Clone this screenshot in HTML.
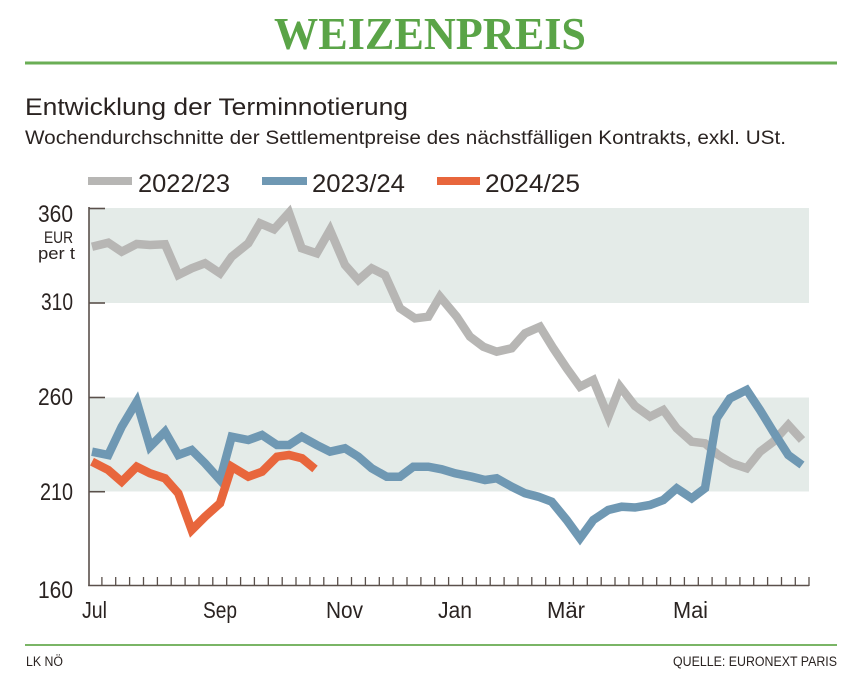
<!DOCTYPE html>
<html><head><meta charset="utf-8"><style>
html,body{margin:0;padding:0;background:#fff;}
svg{display:block;}
</style></head><body>
<svg width="859" height="689" viewBox="0 0 859 689" xmlns="http://www.w3.org/2000/svg">
<rect width="859" height="689" fill="#fff"/>
<text x="430" y="49" text-anchor="middle" font-family="Liberation Serif, serif" font-weight="bold" font-size="46" fill="#5aa447" textLength="312" lengthAdjust="spacingAndGlyphs">WEIZENPREIS</text>
<rect x="25" y="61.5" width="812" height="3" fill="#6aae55"/>
<text x="25" y="115" font-family="Liberation Sans, sans-serif" font-size="24" fill="#2a2321" textLength="383" lengthAdjust="spacingAndGlyphs">Entwicklung der Terminnotierung</text>
<text x="25" y="144" font-family="Liberation Sans, sans-serif" font-size="19.5" fill="#2a2321" textLength="761" lengthAdjust="spacingAndGlyphs">Wochendurchschnitte der Settlementpreise des nächstfälligen Kontrakts, exkl. USt.</text>
<rect x="88" y="177" width="44" height="8" fill="#b7b6b4"/>
<text x="138" y="192" font-family="Liberation Sans, sans-serif" font-size="25" fill="#2a2321" textLength="92" lengthAdjust="spacingAndGlyphs">2022/23</text>
<rect x="262" y="177" width="45" height="8" fill="#6f98b3"/>
<text x="312" y="192" font-family="Liberation Sans, sans-serif" font-size="25" fill="#2a2321" textLength="93" lengthAdjust="spacingAndGlyphs">2023/24</text>
<rect x="437" y="177" width="43" height="8" fill="#e8663c"/>
<text x="485" y="192" font-family="Liberation Sans, sans-serif" font-size="25" fill="#2a2321" textLength="95" lengthAdjust="spacingAndGlyphs">2024/25</text>
<rect x="89" y="208" width="720" height="95" fill="#e4ebe8"/>
<rect x="89" y="397.5" width="720" height="94" fill="#e4ebe8"/>
<g font-family="Liberation Sans, sans-serif" font-size="24" fill="#2a2321" text-anchor="end">
<text x="73" y="222" textLength="35" lengthAdjust="spacingAndGlyphs">360</text>
<text x="73" y="310" textLength="32" lengthAdjust="spacingAndGlyphs">310</text>
<text x="73" y="405" textLength="35" lengthAdjust="spacingAndGlyphs">260</text>
<text x="73" y="500" textLength="33" lengthAdjust="spacingAndGlyphs">210</text>
<text x="73" y="598" textLength="35" lengthAdjust="spacingAndGlyphs">160</text>
</g>
<text x="73" y="243" text-anchor="end" font-family="Liberation Sans, sans-serif" font-size="17" fill="#2a2321" textLength="29" lengthAdjust="spacingAndGlyphs">EUR</text>
<text x="75" y="259" text-anchor="end" font-family="Liberation Sans, sans-serif" font-size="17" fill="#2a2321" textLength="37" lengthAdjust="spacingAndGlyphs">per t</text>
<g stroke="#5a504b" stroke-width="1.6" fill="none">
<line x1="89" y1="207" x2="89" y2="586"/>
<line x1="88.2" y1="585.5" x2="809" y2="585.5"/>
<line x1="89" y1="208.5" x2="105" y2="208.5"/>
<line x1="89" y1="303" x2="105" y2="303"/>
<line x1="89" y1="397.5" x2="105" y2="397.5"/>
<line x1="89" y1="491.7" x2="105" y2="491.7"/>
</g>
<g stroke="#5a504b" stroke-width="1.3">
<line x1="101.9" y1="577" x2="101.9" y2="586"/><line x1="115.7" y1="577" x2="115.7" y2="586"/><line x1="129.6" y1="577" x2="129.6" y2="586"/><line x1="143.5" y1="577" x2="143.5" y2="586"/><line x1="157.4" y1="577" x2="157.4" y2="586"/><line x1="171.2" y1="577" x2="171.2" y2="586"/><line x1="185.1" y1="577" x2="185.1" y2="586"/><line x1="199" y1="577" x2="199" y2="586"/><line x1="212.8" y1="577" x2="212.8" y2="586"/><line x1="226.7" y1="577" x2="226.7" y2="586"/><line x1="240.6" y1="577" x2="240.6" y2="586"/><line x1="254.4" y1="577" x2="254.4" y2="586"/><line x1="268.3" y1="577" x2="268.3" y2="586"/><line x1="282.2" y1="577" x2="282.2" y2="586"/><line x1="296" y1="577" x2="296" y2="586"/><line x1="309.9" y1="577" x2="309.9" y2="586"/><line x1="323.8" y1="577" x2="323.8" y2="586"/><line x1="337.7" y1="577" x2="337.7" y2="586"/><line x1="351.5" y1="577" x2="351.5" y2="586"/><line x1="365.4" y1="577" x2="365.4" y2="586"/><line x1="379.3" y1="577" x2="379.3" y2="586"/><line x1="393.1" y1="577" x2="393.1" y2="586"/><line x1="407" y1="577" x2="407" y2="586"/><line x1="420.9" y1="577" x2="420.9" y2="586"/><line x1="434.7" y1="577" x2="434.7" y2="586"/><line x1="448.6" y1="577" x2="448.6" y2="586"/><line x1="462.5" y1="577" x2="462.5" y2="586"/><line x1="476.3" y1="577" x2="476.3" y2="586"/><line x1="490.2" y1="577" x2="490.2" y2="586"/><line x1="504.1" y1="577" x2="504.1" y2="586"/><line x1="518" y1="577" x2="518" y2="586"/><line x1="531.8" y1="577" x2="531.8" y2="586"/><line x1="545.7" y1="577" x2="545.7" y2="586"/><line x1="559.6" y1="577" x2="559.6" y2="586"/><line x1="573.4" y1="577" x2="573.4" y2="586"/><line x1="587.3" y1="577" x2="587.3" y2="586"/><line x1="601.2" y1="577" x2="601.2" y2="586"/><line x1="615" y1="577" x2="615" y2="586"/><line x1="628.9" y1="577" x2="628.9" y2="586"/><line x1="642.8" y1="577" x2="642.8" y2="586"/><line x1="656.7" y1="577" x2="656.7" y2="586"/><line x1="670.5" y1="577" x2="670.5" y2="586"/><line x1="684.4" y1="577" x2="684.4" y2="586"/><line x1="698.3" y1="577" x2="698.3" y2="586"/><line x1="712.1" y1="577" x2="712.1" y2="586"/><line x1="726" y1="577" x2="726" y2="586"/><line x1="739.9" y1="577" x2="739.9" y2="586"/><line x1="753.7" y1="577" x2="753.7" y2="586"/><line x1="767.6" y1="577" x2="767.6" y2="586"/><line x1="781.5" y1="577" x2="781.5" y2="586"/><line x1="795.3" y1="577" x2="795.3" y2="586"/><line x1="809" y1="577" x2="809" y2="586"/>
</g>
<g font-family="Liberation Sans, sans-serif" font-size="23" fill="#2a2321">
<text x="82" y="618" textLength="25" lengthAdjust="spacingAndGlyphs">Jul</text>
<text x="203" y="618" textLength="34" lengthAdjust="spacingAndGlyphs">Sep</text>
<text x="326" y="618" textLength="37" lengthAdjust="spacingAndGlyphs">Nov</text>
<text x="438" y="618" textLength="34" lengthAdjust="spacingAndGlyphs">Jan</text>
<text x="547" y="618" textLength="38" lengthAdjust="spacingAndGlyphs">Mär</text>
<text x="673" y="618" textLength="35" lengthAdjust="spacingAndGlyphs">Mai</text>
</g>
<g fill="none" stroke-width="8.5" stroke-linejoin="miter" stroke-miterlimit="3" stroke-linecap="butt">
<polyline stroke="#b7b6b4" points="92,246.7 108.3,242.7 121.7,251.7 136.7,244 150,245 165,244.3 178.3,275 191.7,268.3 205,263.3 220,273.3 231.7,256.7 248.3,243.3 260,223.3 274,229.3 289,212.7 301.7,248.3 316.7,253.3 330,230 345,265 358.3,280 371.7,268.3 385,275 400,308.3 415,318.3 428.3,316.7 440,296.7 456.7,316.7 470,336.7 483.3,346.7 496.7,351.7 511.7,348.3 525,333.3 540,326.7 553.3,348.3 566.7,368.3 580,386.7 593.3,380 608.3,416.7 620,386.7 635,406 650,416.7 663.3,410 676.7,428.3 691.7,441.7 705,443.3 718.3,455 731.7,463.3 746.7,468.3 760,451.7 773.3,441.7 788.3,425 802,440"/>
<polyline stroke="#6f98b3" points="92,451.7 108.3,455 121.7,426.7 136.7,401.7 150,446.7 165,431.7 178.3,455 191.7,450 205,463.3 220,480 231.7,436.7 248.3,440 262,435 277,445 289,445 301.7,436.7 316.7,445 330,451.7 345,448.3 358.3,456.7 371.7,468.3 386.7,476.7 400,476.7 413.3,466.7 428.3,466.7 441.7,469.3 455,473.3 471.7,476.7 485,480 496.7,478.3 511.7,486.7 525,493.3 538.3,496.7 551.7,501.7 566.7,520 580,538.3 593.3,520 608.3,510 621.7,506.7 635,507.5 650,505 663.3,500 676.7,488.3 691.7,498.3 705,488.3 716.7,418.3 730,398.3 746.7,390 760,410 773.3,431.7 788.3,455 802,465"/>
<polyline stroke="#e8663c" points="92,461.7 108.3,470 121.7,481.7 136.7,466.7 150,473.3 165,478.3 178.3,493.3 191.7,530 205,516.7 220,503.3 231.7,466.7 248.3,476.7 262,471.7 277,456.7 289,455 302,458.3 315,469"/>
</g>
<rect x="25" y="644" width="812" height="2" fill="#7ab566"/>
<text x="26" y="666" font-family="Liberation Sans, sans-serif" font-size="13.5" fill="#2a2321" textLength="37" lengthAdjust="spacingAndGlyphs">LK NÖ</text>
<text x="837" y="666" text-anchor="end" font-family="Liberation Sans, sans-serif" font-size="13.5" fill="#2a2321" textLength="164" lengthAdjust="spacingAndGlyphs">QUELLE: EURONEXT PARIS</text>
</svg>
</body></html>
